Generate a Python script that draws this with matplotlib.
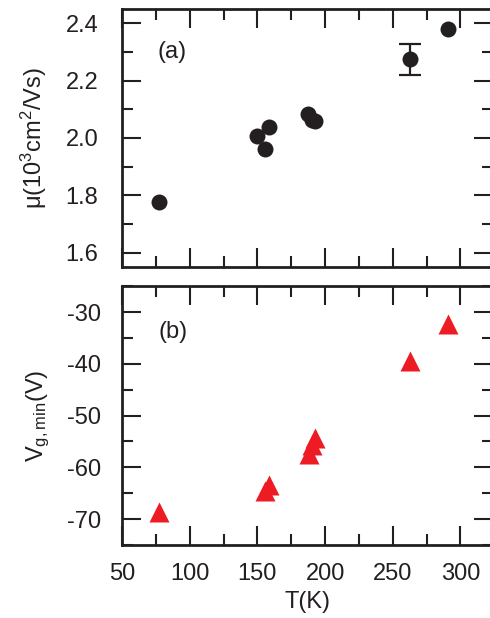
import matplotlib
matplotlib.use("Agg")
import matplotlib.pyplot as plt
from matplotlib.ticker import MultipleLocator

plt.rcParams["font.family"] = ["Liberation Sans", "DejaVu Sans"]
plt.rcParams["mathtext.fontset"] = "custom"
plt.rcParams["mathtext.rm"] = "Liberation Sans"
plt.rcParams["mathtext.default"] = "regular"
plt.rcParams["axes.unicode_minus"] = False

# ── Data ──────────────────────────────────────────────────────────────────
T_mu = [77.5, 150, 155.5, 158.5, 187.5, 190.5, 192.5, 262.5, 290.5]
mu = [1.777, 2.008, 1.960, 2.037, 2.084, 2.064, 2.060, 2.274, 2.379]
# only the 262 K point carries an error bar
T_err = [262.5]
mu_errpt = [2.274]
mu_err = [0.055]

T_vg = [77, 155.3, 158.6, 188.2, 190.0, 192.4, 262.6, 290.6]
vg = [-68.6, -64.5, -63.4, -57.5, -55.7, -54.4, -39.4, -32.4]

BLACK = "#231f20"
RED = "#ed1c24"
FS = 17

fig = plt.figure(figsize=(4.9, 6.18), dpi=100)
ax1 = fig.add_axes([0.249, 0.568, 0.757, 0.4175])
ax2 = fig.add_axes([0.249, 0.118, 0.757, 0.419])

for ax in (ax1, ax2):
    ax.set_xlim(50, 324)
    ax.xaxis.set_major_locator(MultipleLocator(50))
    ax.xaxis.set_minor_locator(MultipleLocator(25))
    ax.tick_params(which="both", direction="in", top=True, right=True,
                   width=1.5, colors=BLACK, labelsize=FS)
    ax.tick_params(which="major", length=14)
    ax.tick_params(which="minor", length=8)
    ax.tick_params(axis="x", pad=13)
    for sp in ax.spines.values():
        sp.set_linewidth(2.0)
        sp.set_color(BLACK)

# ── (a) mobility ──────────────────────────────────────────────────────────
ax1.plot(T_mu, mu, "o", color=BLACK, ms=11.5, mec="none")
ax1.errorbar(T_err, mu_errpt, yerr=mu_err, fmt="none", ecolor=BLACK,
             elinewidth=1.6, capsize=8, capthick=1.6)
ax1.set_ylim(1.55, 2.45)
ax1.yaxis.set_major_locator(MultipleLocator(0.2))
ax1.yaxis.set_minor_locator(MultipleLocator(0.1))
ax1.yaxis.set_major_formatter(plt.FormatStrFormatter("%.1f"))
ax1.tick_params(axis="y", pad=17)
ax1.tick_params(axis="x", labelbottom=False)
ax1.set_ylabel("μ(10$^3$cm$^2$/Vs)", fontsize=FS, color=BLACK, labelpad=12)
ax1.text(0.096, 0.833, "(a)", transform=ax1.transAxes, fontsize=FS,
         va="center", ha="left", color=BLACK)

# ── (b) Dirac point voltage ───────────────────────────────────────────────
ax2.plot(T_vg, vg, "^", color=RED, ms=14, mec="none")
ax2.set_ylim(-75, -25)
ax2.yaxis.set_major_locator(MultipleLocator(10))
ax2.yaxis.set_minor_locator(MultipleLocator(5))
ax2.tick_params(axis="y", pad=15)
ax2.set_ylabel("V$_{g,min}$(V)", fontsize=FS, color=BLACK, labelpad=11)
ax2.set_xlabel("T(K)", fontsize=FS, color=BLACK, labelpad=4)
ax2.text(0.098, 0.824, "(b)", transform=ax2.transAxes, fontsize=FS,
         va="center", ha="left", color=BLACK)

fig.savefig("out.png", dpi=100)
